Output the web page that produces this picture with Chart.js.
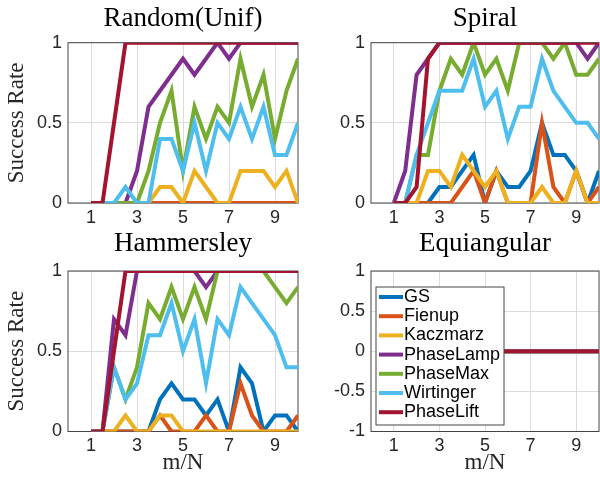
<!DOCTYPE html>
<html>
<head>
<meta charset="utf-8">
<script src="https://cdn.jsdelivr.net/npm/chart.js@4.4.1/dist/chart.umd.min.js"></script>
<style>
html, body { margin: 0; padding: 0; background: #fff; }
#wrap { position: relative; width: 600px; height: 482px; overflow: hidden; }
canvas { position: absolute; }
</style>
</head>
<body>
<div id="wrap">
  <canvas id="randomChart" width="300" height="235" style="left:0;top:0"></canvas>
  <canvas id="spiralChart" width="300" height="235" style="left:300px;top:0"></canvas>
  <canvas id="hammersleyChart" width="300" height="262" style="left:0;top:220px"></canvas>
  <canvas id="equiChart" width="300" height="262" style="left:300px;top:220px"></canvas>
</div>
<script>
const mOverN = [1, 1.5, 2, 2.5, 3, 3.5, 4, 4.5, 5, 5.5, 6, 6.5, 7, 7.5, 8, 8.5, 9, 9.5, 10];
const methods = ['GS', 'Fienup', 'Kaczmarz', 'PhaseLamp', 'PhaseMax', 'Wirtinger', 'PhaseLift'];
const methodColors = ['#0072BD', '#D95319', '#EDB120', '#7E2F8E', '#77AC30', '#4DBEEE', '#A2142F'];
const xTicks = [1, 3, 5, 7, 9];
const rateTicks = [0, 0.5, 1];
const equiTicks = [-1, -0.5, 0, 0.5, 1];

// Random(Unif)
const randGS        = [0, 0, 0, 0, 0, 0, 0, 0, 0, 0, 0, 0, 0, 0, 0, 0, 0, 0, 0];
const randFienup    = [0, 0, 0, 0, 0, 0, 0, 0, 0, 0, 0, 0, 0, 0, 0, 0, 0, 0, 0];
const randKaczmarz  = [0, 0, 0, 0, 0, 0, 0.1, 0.1, 0, 0.2, 0.1, 0, 0, 0.2, 0.2, 0.2, 0.1, 0.2, 0];
const randPhaseLamp = [0, 0, 0, 0, 0.2, 0.6, 0.7, 0.8, 0.9, 0.8, 0.9, 1, 0.9, 1, 1, 1, 1, 1, 1];
const randPhaseMax  = [0, 0, 0, 0, 0, 0.2, 0.5, 0.7, 0.2, 0.6, 0.4, 0.6, 0.5, 0.9, 0.6, 0.8, 0.4, 0.7, 0.9];
const randWirtinger = [0, 0, 0, 0.1, 0, 0, 0.4, 0.4, 0.2, 0.5, 0.2, 0.5, 0.4, 0.6, 0.4, 0.6, 0.3, 0.3, 0.5];
const randPhaseLift = [0, 0, 0.5, 1, 1, 1, 1, 1, 1, 1, 1, 1, 1, 1, 1, 1, 1, 1, 1];

// Spiral
const spirGS        = [0, 0, 0, 0, 0.1, 0.1, 0.2, 0.3, 0, 0.2, 0.1, 0.1, 0.2, 0.5, 0.3, 0.3, 0.2, 0, 0.2];
const spirFienup    = [0, 0, 0, 0, 0, 0, 0.1, 0.2, 0, 0.2, 0, 0, 0, 0.5, 0.1, 0, 0.2, 0, 0.1];
const spirKaczmarz  = [0, 0, 0, 0.2, 0.2, 0.1, 0.3, 0.2, 0.1, 0.2, 0, 0, 0, 0.1, 0, 0, 0.2, 0, 0];
const spirPhaseLamp = [0, 0.2, 0.8, 0.9, 1, 1, 1, 1, 1, 1, 1, 1, 1, 1, 1, 1, 1, 0.9, 1];
const spirPhaseMax  = [0, 0, 0.3, 0.3, 0.7, 0.9, 0.8, 1, 0.8, 0.9, 0.7, 1, 1, 1, 0.9, 1, 0.8, 0.8, 0.9];
const spirWirtinger = [0, 0, 0.3, 0.5, 0.7, 0.7, 0.7, 0.9, 0.6, 0.7, 0.4, 0.6, 0.6, 0.9, 0.7, 0.6, 0.5, 0.5, 0.4];
const spirPhaseLift = [0, 0, 0.1, 0.9, 1, 1, 1, 1, 1, 1, 1, 1, 1, 1, 1, 1, 1, 1, 1];

// Hammersley
const hamGS        = [0, 0, 0, 0, 0, 0, 0.2, 0.3, 0.2, 0.2, 0.1, 0.2, 0, 0.4, 0.3, 0, 0.1, 0.1, 0];
const hamFienup    = [0, 0, 0, 0, 0, 0, 0.1, 0, 0, 0, 0.1, 0, 0, 0.3, 0.1, 0, 0, 0, 0.1];
const hamKaczmarz  = [0, 0, 0, 0.1, 0, 0, 0.1, 0.1, 0, 0, 0, 0, 0, 0, 0, 0, 0, 0, 0];
const hamPhaseLamp = [0, 0, 0.7, 0.6, 1, 1, 1, 1, 1, 1, 0.9, 1, 1, 1, 1, 1, 1, 1, 1];
const hamPhaseMax  = [0, 0, 0.4, 0.2, 0.4, 0.8, 0.7, 0.9, 0.7, 0.9, 0.7, 1, 1, 1, 1, 1, 0.9, 0.8, 0.9];
const hamWirtinger = [0, 0, 0.4, 0.2, 0.3, 0.6, 0.6, 0.8, 0.5, 0.7, 0.3, 0.7, 0.6, 0.9, 0.8, 0.7, 0.6, 0.4, 0.4];
const hamPhaseLift = [0, 0, 0.5, 1, 1, 1, 1, 1, 1, 1, 1, 1, 1, 1, 1, 1, 1, 1, 1];

// Equiangular: every method stays at 0
const equiGS        = [0, 0, 0, 0, 0, 0, 0, 0, 0, 0, 0, 0, 0, 0, 0, 0, 0, 0, 0];
const equiFienup    = [0, 0, 0, 0, 0, 0, 0, 0, 0, 0, 0, 0, 0, 0, 0, 0, 0, 0, 0];
const equiKaczmarz  = [0, 0, 0, 0, 0, 0, 0, 0, 0, 0, 0, 0, 0, 0, 0, 0, 0, 0, 0];
const equiPhaseLamp = [0, 0, 0, 0, 0, 0, 0, 0, 0, 0, 0, 0, 0, 0, 0, 0, 0, 0, 0];
const equiPhaseMax  = [0, 0, 0, 0, 0, 0, 0, 0, 0, 0, 0, 0, 0, 0, 0, 0, 0, 0, 0];
const equiWirtinger = [0, 0, 0, 0, 0, 0, 0, 0, 0, 0, 0, 0, 0, 0, 0, 0, 0, 0, 0];
const equiPhaseLift = [0, 0, 0, 0, 0, 0, 0, 0, 0, 0, 0, 0, 0, 0, 0, 0, 0, 0, 0];

const sansFamily = "'Liberation Sans', Arial, sans-serif";
const serifFamily = "'Liberation Serif', 'Times New Roman', serif";

// axes box drawn under the lines (like matlab "box on")
const boxPlugin = {
    id: 'box',
    beforeDatasetsDraw(chart) {
        const { ctx, chartArea: a } = chart;
        ctx.save();
        ctx.strokeStyle = '#444';
        ctx.lineWidth = 1;
        ctx.strokeRect(a.left, a.top, a.right - a.left, a.bottom - a.top);
        ctx.restore();
    }
};

const insideLegend = {
    id: 'insideLegend',
    afterDatasetsDraw(chart, args, opts) {
        if (!opts.show) return;
        const { ctx, chartArea: a } = chart;
        const x0 = a.left + 5, y0 = a.top + 16, w = 128, h = 138, row = 19.2;
        ctx.save();
        ctx.fillStyle = '#fff';
        ctx.fillRect(x0, y0, w, h);
        ctx.strokeStyle = '#444';
        ctx.lineWidth = 1;
        ctx.strokeRect(x0, y0, w, h);
        ctx.font = '18px ' + sansFamily;
        ctx.textBaseline = 'middle';
        chart.data.datasets.forEach((ds, i) => {
            const y = y0 + 10 + i * row;
            ctx.strokeStyle = ds.borderColor;
            ctx.lineWidth = 4;
            ctx.beginPath();
            ctx.moveTo(x0 + 3, y);
            ctx.lineTo(x0 + 27, y);
            ctx.stroke();
            ctx.fillStyle = '#000';
            ctx.fillText(ds.label, x0 + 28, y);
        });
        ctx.restore();
    }
};

function makePanel(id, title, series, yTicks, g) {
    const ctx = document.getElementById(id).getContext('2d');
    return new Chart(ctx, {
        type: 'line',
        data: {
            datasets: series.map((vals, i) => ({
                label: methods[i],
                data: vals.map((v, k) => ({ x: mOverN[k], y: v })),
                borderColor: methodColors[i],
                backgroundColor: methodColors[i],
                borderWidth: 4,
                pointRadius: 0,
                tension: 0,
                order: methods.length - i,
            })),
        },
        options: {
            responsive: false,
            animation: false,
            layout: { padding: { left: 0, right: g.padRight, top: 0, bottom: 0 } },
            scales: {
                x: {
                    type: 'linear',
                    min: 0,
                    max: 10,
                    afterBuildTicks: (s) => { s.ticks = xTicks.map(v => ({ value: v })); },
                    afterFit: (s) => { s.height = g.xHeight; },
                    grid: { color: '#dcdcdc', drawTicks: false },
                    border: { display: false },
                    ticks: { color: '#262626', padding: 4, font: { family: sansFamily, size: 18 }, callback: v => String(v) },
                    title: {
                        display: g.xTitle,
                        text: 'm/N',
                        color: '#262626',
                        font: { family: serifFamily, size: 23 },
                        padding: { top: 0, bottom: 5 },
                    },
                },
                y: {
                    min: yTicks[0],
                    max: yTicks[yTicks.length - 1],
                    afterBuildTicks: (s) => { s.ticks = yTicks.map(v => ({ value: v })); },
                    afterFit: (s) => { s.width = g.yWidth; },
                    grid: { color: '#dcdcdc', drawTicks: false },
                    border: { display: false },
                    ticks: { color: '#262626', padding: 6, font: { family: sansFamily, size: 18 }, callback: v => String(v) },
                    title: {
                        display: g.yTitle,
                        text: 'Success Rate',
                        color: '#262626',
                        font: { family: serifFamily, size: 23 },
                        padding: { top: 3, bottom: 0 },
                    },
                },
            },
            plugins: {
                legend: { display: false },
                tooltip: { enabled: false },
                title: {
                    display: true,
                    text: title,
                    fullSize: false,
                    color: '#000',
                    font: { family: serifFamily, size: 27, weight: 'normal' },
                    padding: { top: g.titleTop, bottom: g.titleBottom },
                },
                insideLegend: { show: !!g.legend },
            },
        },
        plugins: [boxPlugin, insideLegend],
    });
}

makePanel('randomChart', 'Random(Unif)',
    [randGS, randFienup, randKaczmarz, randPhaseLamp, randPhaseMax, randWirtinger, randPhaseLift],
    rateTicks, { yWidth: 68, xHeight: 32, padRight: 2, titleTop: 2.8, titleBottom: 7.5, xTitle: false, yTitle: true });

makePanel('spiralChart', 'Spiral',
    [spirGS, spirFienup, spirKaczmarz, spirPhaseLamp, spirPhaseMax, spirWirtinger, spirPhaseLift],
    rateTicks, { yWidth: 71, xHeight: 32, padRight: 1, titleTop: 2.8, titleBottom: 7.5, xTitle: false, yTitle: false });

makePanel('hammersleyChart', 'Hammersley',
    [hamGS, hamFienup, hamKaczmarz, hamPhaseLamp, hamPhaseMax, hamWirtinger, hamPhaseLift],
    rateTicks, { yWidth: 68, xHeight: 50.5, padRight: 2, titleTop: 7.8, titleBottom: 10.8, xTitle: true, yTitle: true });

makePanel('equiChart', 'Equiangular',
    [equiGS, equiFienup, equiKaczmarz, equiPhaseLamp, equiPhaseMax, equiWirtinger, equiPhaseLift],
    equiTicks, { yWidth: 71, xHeight: 50.5, padRight: 1, titleTop: 7.8, titleBottom: 10.8, xTitle: true, yTitle: false, legend: true });
</script>
</body>
</html>
